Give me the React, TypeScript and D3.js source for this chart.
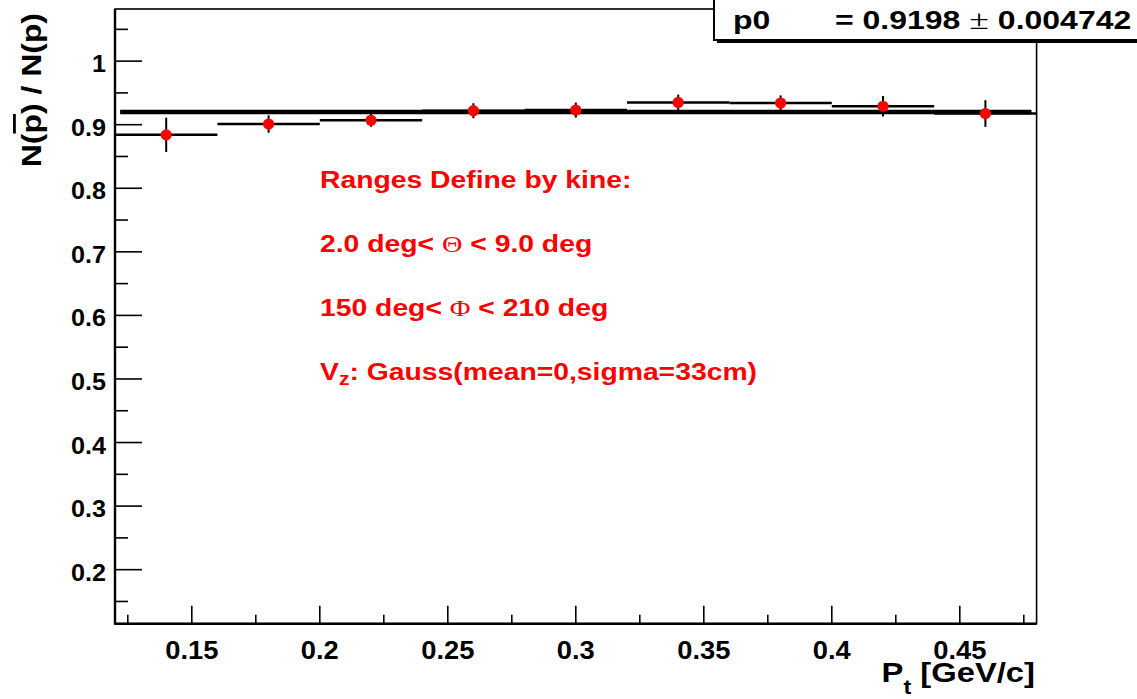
import React, { useEffect, useRef } from 'react';
import * as d3 from 'd3';

// bin centres in Pt [GeV/c], bin width 0.04
const binCenters = [0.14, 0.18, 0.22, 0.26, 0.30, 0.34, 0.38, 0.42, 0.46];
const binWidth = 0.04;
// N(pbar)/N(p) per bin and its error
const ratio = [0.884, 0.901, 0.907, 0.922, 0.923, 0.935, 0.934, 0.929, 0.9175];
const ratioErr = [0.027, 0.0137, 0.0102, 0.0118, 0.0118, 0.0123, 0.0121, 0.0162, 0.021];

// constant fit
const fitP0 = 0.9198;
const fitErr = '0.004742';
const fitRange = [0.122, 0.478];

const xTicks = [0.15, 0.2, 0.25, 0.3, 0.35, 0.4, 0.45];
const xTickLabels = ['0.15', '0.2', '0.25', '0.3', '0.35', '0.4', '0.45'];
const xMinor = [0.125, 0.175, 0.225, 0.275, 0.325, 0.375, 0.425, 0.475];
const yTicks = [0.2, 0.3, 0.4, 0.5, 0.6, 0.7, 0.8, 0.9, 1.0];
const yTickLabels = ['0.2', '0.3', '0.4', '0.5', '0.6', '0.7', '0.8', '0.9', '1'];
const yMinor = [0.15, 0.25, 0.35, 0.45, 0.55, 0.65, 0.75, 0.85, 0.95, 1.05];

const FONT = '"Liberation Sans", Arial, Helvetica, sans-serif';
const SERIF = '"Liberation Serif", "Times New Roman", serif';

export default function App() {
  const ref = useRef<SVGSVGElement | null>(null);

  useEffect(() => {
    const width = 1137;
    const height = 699;
    const frame = { left: 115, right: 1036.6, top: 9, bottom: 623.7 };

    const svg = d3.select(ref.current).attr('width', width).attr('height', height);
    svg.selectAll('*').remove();

    const x = d3.scaleLinear().domain([0.12, 0.48]).range([frame.left, frame.right]);
    const y = d3.scaleLinear().domain([0.115, 1.082]).range([frame.bottom, frame.top]);

    svg.append('rect').attr('width', width).attr('height', height).attr('fill', 'white');

    const data = binCenters.map((c, i) => ({ c, v: ratio[i], e: ratioErr[i] }));

    // fit line
    svg.append('line')
      .attr('x1', x(fitRange[0])).attr('x2', x(fitRange[1]))
      .attr('y1', y(fitP0)).attr('y2', y(fitP0))
      .attr('stroke', 'black').attr('stroke-width', 4.5);

    // histogram bin contents
    svg.append('g').selectAll('line').data(data).join('line')
      .attr('x1', d => x(d.c - binWidth / 2)).attr('x2', d => x(d.c + binWidth / 2))
      .attr('y1', d => y(d.v)).attr('y2', d => y(d.v))
      .attr('stroke', 'black').attr('stroke-width', 2.5);

    // error bars
    svg.append('g').selectAll('line').data(data).join('line')
      .attr('x1', d => x(d.c)).attr('x2', d => x(d.c))
      .attr('y1', d => y(d.v - d.e)).attr('y2', d => y(d.v + d.e))
      .attr('stroke', 'black').attr('stroke-width', 2);

    // markers
    svg.append('g').selectAll('circle').data(data).join('circle')
      .attr('cx', d => x(d.c)).attr('cy', d => y(d.v)).attr('r', 5.6)
      .attr('fill', '#ff0000');

    // frame
    svg.append('rect')
      .attr('x', frame.left).attr('y', frame.top)
      .attr('width', frame.right - frame.left).attr('height', frame.bottom - frame.top)
      .attr('fill', 'none').attr('stroke', 'black').attr('stroke-width', 1.6);
    svg.append('line')
      .attr('x1', frame.left).attr('x2', frame.left).attr('y1', frame.top).attr('y2', frame.bottom + 1)
      .attr('stroke', 'black').attr('stroke-width', 2.4);
    svg.append('line')
      .attr('x1', frame.left).attr('x2', frame.right).attr('y1', frame.bottom).attr('y2', frame.bottom)
      .attr('stroke', 'black').attr('stroke-width', 2.4);

    // y ticks
    const gy = svg.append('g').attr('stroke', 'black').attr('stroke-width', 1.6);
    gy.selectAll('line.maj').data(yTicks).join('line').attr('class', 'maj')
      .attr('x1', frame.left).attr('x2', frame.left + 27)
      .attr('y1', d => y(d)).attr('y2', d => y(d));
    gy.selectAll('line.min').data(yMinor).join('line').attr('class', 'min')
      .attr('x1', frame.left).attr('x2', frame.left + 13)
      .attr('y1', d => y(d)).attr('y2', d => y(d));

    // x ticks
    const gx = svg.append('g').attr('stroke', 'black').attr('stroke-width', 1.6);
    gx.selectAll('line.maj').data(xTicks).join('line').attr('class', 'maj')
      .attr('x1', d => x(d)).attr('x2', d => x(d))
      .attr('y1', frame.bottom).attr('y2', frame.bottom - 18);
    gx.selectAll('line.min').data(xMinor).join('line').attr('class', 'min')
      .attr('x1', d => x(d)).attr('x2', d => x(d))
      .attr('y1', frame.bottom).attr('y2', frame.bottom - 9);

    // tick labels
    svg.append('g').selectAll('text').data(yTicks).join('text')
      .attr('transform', d => `translate(106,${y(d) + 11}) scale(1.05,1)`)
      .attr('text-anchor', 'end')
      .attr('font-family', FONT).attr('font-weight', 'bold').attr('font-size', 24)
      .text((d, i) => yTickLabels[i]);
    svg.append('g').selectAll('text').data(xTicks).join('text')
      .attr('transform', d => `translate(${x(d)},659) scale(1.05,1)`)
      .attr('text-anchor', 'middle')
      .attr('font-family', FONT).attr('font-weight', 'bold').attr('font-size', 26)
      .text((d, i) => xTickLabels[i]);

    // axis titles
    const yt = svg.append('text')
      .attr('transform', 'translate(41,13) rotate(-90) scale(1.14,1)')
      .attr('text-anchor', 'end')
      .attr('font-family', FONT).attr('font-weight', 'bold').attr('font-size', 28);
    yt.append('tspan').text('N(');
    yt.append('tspan').style('text-decoration', 'overline').text('p');
    yt.append('tspan').text(') / N(p)');

    const xt = svg.append('text')
      .attr('transform', 'translate(1035,682) scale(1.17,1)')
      .attr('text-anchor', 'end')
      .attr('font-family', FONT).attr('font-weight', 'bold').attr('font-size', 28);
    xt.append('tspan').text('P');
    xt.append('tspan').attr('font-size', 20).attr('dy', 12).text('t');
    xt.append('tspan').attr('dy', -12).text(' [GeV/c]');

    // annotation
    const note = (by: number) => svg.append('text')
      .attr('transform', `translate(320,${by}) scale(1.18,1)`)
      .attr('fill', '#ff0000')
      .attr('font-family', FONT).attr('font-weight', 'bold').attr('font-size', 24);
    note(188).text('Ranges Define by kine:');
    const l2 = note(252);
    l2.append('tspan').text('2.0 deg< ');
    l2.append('tspan').attr('font-family', SERIF).attr('font-weight', 'normal').text('Θ');
    l2.append('tspan').text(' < 9.0 deg');
    const l3 = note(316);
    l3.append('tspan').text('150 deg< ');
    l3.append('tspan').attr('font-family', SERIF).attr('font-weight', 'normal').text('Φ');
    l3.append('tspan').text(' < 210 deg');
    const l4 = note(380);
    l4.append('tspan').text('V');
    l4.append('tspan').attr('font-size', 18).attr('dy', 5).text('z');
    l4.append('tspan').attr('dy', -5).text(': Gauss(mean=0,sigma=33cm)');

    // stats box
    svg.append('rect').attr('x', 717).attr('y', -5).attr('width', 440).attr('height', 48).attr('fill', 'black');
    svg.append('rect').attr('x', 714).attr('y', -8).attr('width', 440).attr('height', 48)
      .attr('fill', 'white').attr('stroke', 'black').attr('stroke-width', 2);
    svg.append('text')
      .attr('transform', 'translate(733,29) scale(1.28,1)')
      .attr('font-family', FONT).attr('font-weight', 'bold').attr('font-size', 25)
      .text('p0');
    const st = svg.append('text')
      .attr('transform', 'translate(835,29) scale(1.28,1)')
      .attr('font-family', FONT).attr('font-weight', 'bold').attr('font-size', 25);
    st.append('tspan').text(`= ${fitP0.toFixed(4)} `);
    st.append('tspan').attr('font-family', SERIF).attr('font-weight', 'normal').attr('font-size', 28).text('±');
    st.append('tspan').text(` ${fitErr}`);
  }, []);

  return (
    <svg ref={ref} style={{ position: 'absolute', left: 0, top: 0, display: 'block' }} />
  );
}
